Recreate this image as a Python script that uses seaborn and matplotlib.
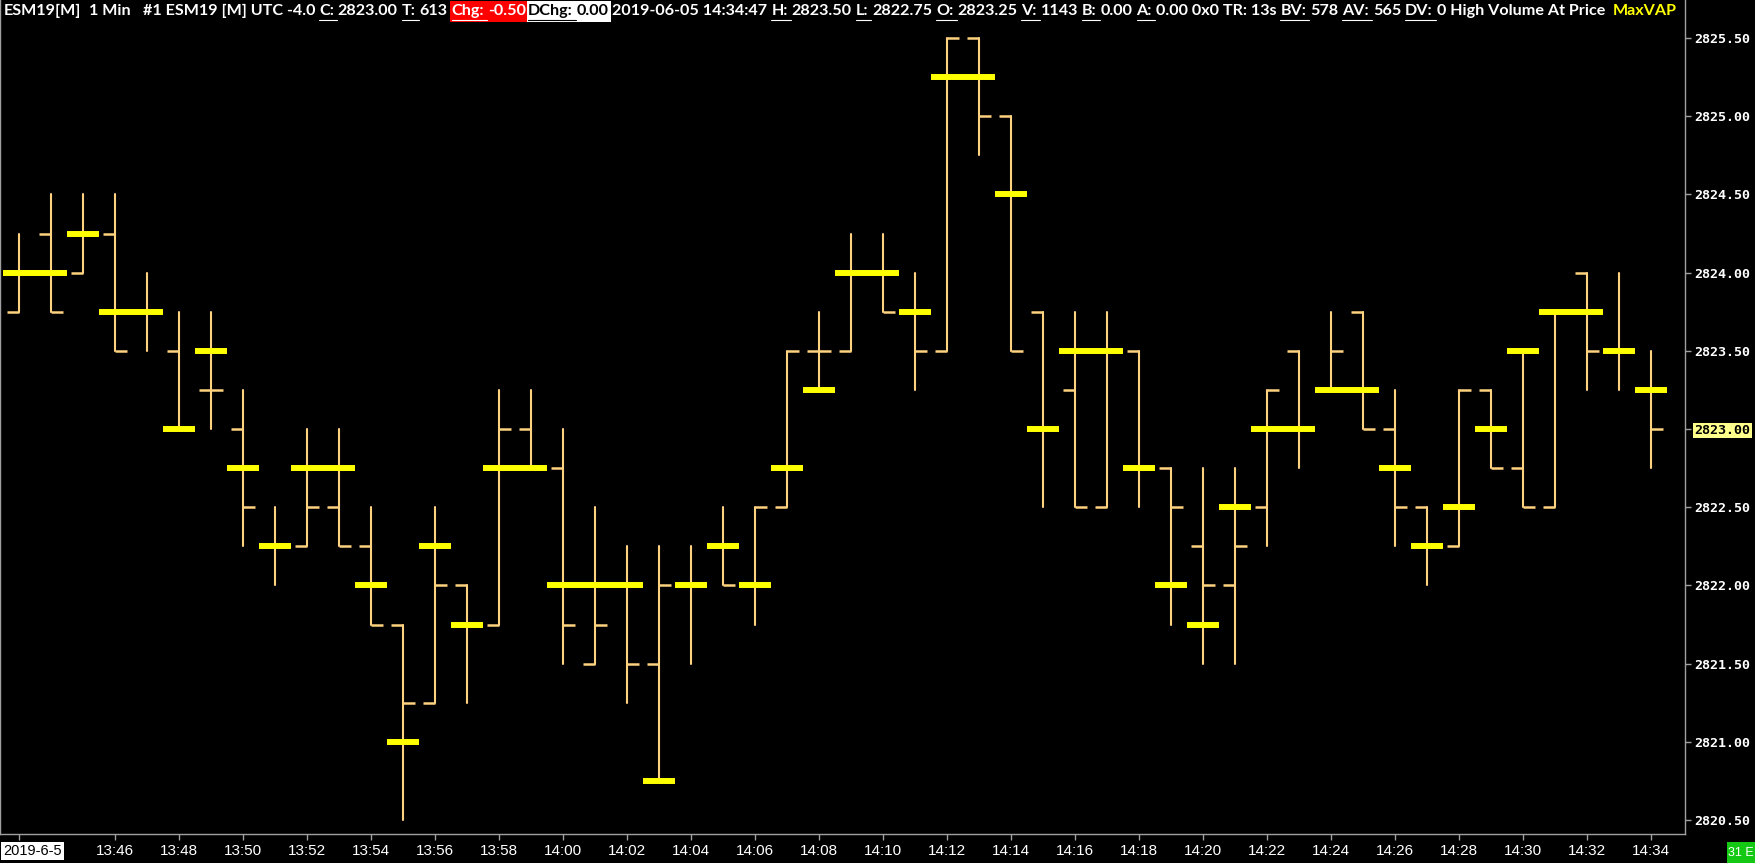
import numpy as np
import pandas as pd
import seaborn as sns
import matplotlib.pyplot as plt
from matplotlib.patches import Rectangle
from matplotlib.lines import Line2D
from matplotlib.transforms import IdentityTransform

# one minute bars, ESM19, 13:43 .. 14:34
times = ['13:43', '13:44', '13:45', '13:46', '13:47', '13:48', '13:49', '13:50', '13:51', '13:52',
         '13:53', '13:54', '13:55', '13:56', '13:57', '13:58', '13:59', '14:00', '14:01', '14:02',
         '14:03', '14:04', '14:05', '14:06', '14:07', '14:08', '14:09', '14:10', '14:11', '14:12',
         '14:13', '14:14', '14:15', '14:16', '14:17', '14:18', '14:19', '14:20', '14:21', '14:22',
         '14:23', '14:24', '14:25', '14:26', '14:27', '14:28', '14:29', '14:30', '14:31', '14:32',
         '14:33', '14:34']
opens = [2823.75, 2824.25, 2824.00, 2824.25, 2823.75, 2823.50, 2823.25, 2823.00, 2822.25, 2822.25,
         2822.50, 2822.25, 2821.75, 2821.25, 2822.00, 2821.75, 2823.00, 2822.75, 2821.50, 2822.00,
         2821.50, 2822.00, 2822.25, 2822.00, 2822.50, 2823.50, 2823.50, 2824.00, 2823.75, 2823.50,
         2825.50, 2825.00, 2823.75, 2823.25, 2822.50, 2823.50, 2822.75, 2822.25, 2822.00, 2822.50,
         2823.50, 2823.25, 2823.75, 2823.00, 2822.50, 2822.25, 2823.25, 2822.75, 2822.50, 2824.00,
         2823.50, 2823.25]
highs = [2824.25, 2824.50, 2824.50, 2824.50, 2824.00, 2823.75, 2823.75, 2823.25, 2822.50, 2823.00,
         2823.00, 2822.50, 2821.75, 2822.50, 2822.00, 2823.25, 2823.25, 2823.00, 2822.50, 2822.25,
         2822.25, 2822.25, 2822.50, 2822.50, 2823.50, 2823.75, 2824.25, 2824.25, 2824.00, 2825.50,
         2825.50, 2825.00, 2823.75, 2823.75, 2823.75, 2823.50, 2822.75, 2822.75, 2822.75, 2823.25,
         2823.50, 2823.75, 2823.75, 2823.25, 2822.50, 2823.25, 2823.25, 2823.50, 2823.75, 2824.00,
         2824.00, 2823.50]
lows = [2823.75, 2823.75, 2824.00, 2823.50, 2823.50, 2823.00, 2823.00, 2822.25, 2822.00, 2822.25,
        2822.25, 2821.75, 2820.50, 2821.25, 2821.25, 2821.75, 2822.75, 2821.50, 2821.50, 2821.25,
        2820.75, 2821.50, 2822.00, 2821.75, 2822.50, 2823.25, 2823.50, 2823.75, 2823.25, 2823.50,
        2824.75, 2823.50, 2822.50, 2822.50, 2822.50, 2822.50, 2821.75, 2821.50, 2821.50, 2822.25,
        2822.75, 2823.25, 2823.00, 2822.25, 2822.00, 2822.25, 2822.75, 2822.50, 2822.50, 2823.25,
        2823.25, 2822.75]
closes = [2824.00, 2823.75, 2824.25, 2823.50, 2823.75, 2823.00, 2823.25, 2822.50, 2822.25, 2822.50,
          2822.25, 2821.75, 2821.25, 2822.00, 2821.75, 2823.00, 2822.75, 2821.75, 2821.75, 2821.50,
          2822.00, 2822.00, 2822.00, 2822.50, 2823.50, 2823.50, 2824.00, 2823.75, 2823.50, 2825.50,
          2825.00, 2823.50, 2823.00, 2822.50, 2823.50, 2822.75, 2822.50, 2822.00, 2822.25, 2823.25,
          2823.00, 2823.50, 2823.00, 2822.50, 2822.25, 2823.25, 2822.75, 2822.50, 2823.75, 2823.50,
          2823.50, 2823.00]
max_vap = [2824.00, 2824.00, 2824.25, 2823.75, 2823.75, 2823.00, 2823.50, 2822.75, 2822.25, 2822.75,
           2822.75, 2822.00, 2821.00, 2822.25, 2821.75, 2822.75, 2822.75, 2822.00, 2822.00, 2822.00,
           2820.75, 2822.00, 2822.25, 2822.00, 2822.75, 2823.25, 2824.00, 2824.00, 2823.75, 2825.25,
           2825.25, 2824.50, 2823.00, 2823.50, 2823.50, 2822.75, 2822.00, 2821.75, 2822.50, 2823.00,
           2823.00, 2823.25, 2823.25, 2822.75, 2822.25, 2822.50, 2823.00, 2823.50, 2823.75, 2823.75,
           2823.50, 2823.25]
tick_times = ['13:46', '13:48', '13:50', '13:52', '13:54', '13:56', '13:58', '14:00', '14:02', '14:04',
              '14:06', '14:08', '14:10', '14:12', '14:14', '14:16', '14:18', '14:20', '14:22', '14:24',
              '14:26', '14:28', '14:30', '14:32', '14:34']
date_label = '2019-6-5'
last_price = '2823.00'

bar_color = '#ffd27f'
vap_color = '#ffff00'
grey = '#a0a0a0'
narrow = ['Liberation Sans Narrow', 'Liberation Sans', 'DejaVu Sans']

sns.set_style('dark', {'axes.facecolor': 'black', 'figure.facecolor': 'black'})
plt.rcParams['font.family'] = ['DejaVu Sans']

W, H = 1755, 863
fig = plt.figure(figsize=(W / 100, H / 100), dpi=100)
ax = fig.add_axes([0, 29 / H, 1685 / W, 834 / H])
ax.set_facecolor('black')

x = np.arange(len(times))
hl = pd.DataFrame({'bar': np.repeat(x, 2),
                   'price': np.column_stack([lows, highs]).ravel()})
sns.lineplot(data=hl, x='bar', y='price', units='bar', estimator=None,
             color=bar_color, lw=1.5, ax=ax, legend=False)
ax.hlines(opens, x - 0.375, x, color=bar_color, lw=1.8)
ax.hlines(closes, x, x + 0.375, color=bar_color, lw=1.8)
ax.hlines(max_vap, x - 0.5, x + 0.5, color=vap_color, lw=4.3, zorder=5)

ax.set_xlim(-19 / 32, (1685 - 19) / 32)
ax.set_ylim(2820.5 - 14 / 39.1 * 0.25, 2825.5 + 38 / 39.1 * 0.25)
ax.grid(False)
ax.set_xlabel('')
ax.set_ylabel('')

ax.spines['top'].set_visible(False)
for side in ['left', 'right', 'bottom']:
    ax.spines[side].set_visible(True)
    ax.spines[side].set_color(grey)
    ax.spines[side].set_linewidth(1.0)

# right price scale
ax.yaxis.tick_right()
yt = np.arange(2820.5, 2825.51, 0.5)
ax.set_yticks(yt)
ax.set_yticklabels([f'{v:.2f}' for v in yt])
ax.tick_params(axis='y', right=True, left=False, length=4, width=1, color=grey,
               labelcolor='white', labelsize=9.6, pad=3)
for lab in ax.get_yticklabels():
    lab.set_family('DejaVu Sans Mono')
    lab.set_weight('bold')
    if lab.get_text() == last_price:
        lab.set_color('black')
        lab.set_bbox(dict(facecolor='#ffff8c', edgecolor='none', pad=1))

# time scale (the date sits on the first bar, drawn separately so it stays inside)
xt = [0] + [times.index(t) for t in tick_times]
ax.set_xticks(xt)
ax.set_xticklabels([''] + tick_times)
ax.tick_params(axis='x', bottom=True, length=4, width=1, color=grey,
               labelcolor='white', labelsize=11, pad=3)
for lab in ax.get_xticklabels():
    lab.set_family(narrow)
fig.text(3, 12, date_label, color='black', fontsize=10.5, ha='left', va='center', family=narrow,
         bbox=dict(facecolor='white', edgecolor='none', pad=1.5),
         transform=IdentityTransform(), zorder=4)

# header line
header = [
    (0, 'ESM19[M]', 'w'), (2, '1 Min', 'w'), (3, '#1 ESM19 [M] UTC -4.0', 'w'),
    (1, 'C:', 'u'), (1, '2823.00', 'w'), (1, 'T:', 'u'), (1, '613', 'w'),
    (1, 'Chg:', 'ru'), (1, '-0.50', 'r'), (0.5, 'DChg:', 'ku'), (1, '0.00', 'k'),
    (1, '2019-06-05 14:34:47', 'w'), (1, 'H:', 'u'), (1, '2823.50', 'w'),
    (1, 'L:', 'u'), (1, '2822.75', 'w'), (1, 'O:', 'u'), (1, '2823.25', 'w'),
    (1, 'V:', 'u'), (1, '1143', 'w'), (1, 'B:', 'u'), (1, '0.00', 'w'),
    (1, 'A:', 'u'), (1, '0.00 0x0 TR: 13s', 'w'), (1, 'BV:', 'u'), (1, '578', 'w'),
    (1, 'AV:', 'u'), (1, '565', 'w'), (1, 'DV:', 'u'), (1, '0 High Volume At Price', 'w'),
    (2, 'MaxVAP', 'y'),
]
renderer = fig.canvas.get_renderer()
hfont = dict(family='Lato', weight='bold')


def text_w(s, size):
    t = fig.text(0, 0, s, fontsize=size, transform=IdentityTransform(), **hfont)
    w = t.get_window_extent(renderer).width
    t.remove()
    return w


base = 10
sp = text_w('a a', base) - text_w('aa', base)
total = sum(n * sp + text_w(s, base) for n, s, _ in header)
size = base * (1680 - 4) / total
sp = sp * size / base

cx = 4
boxes = {}
ty = H - 11
for n, s, st in header:
    cx += n * sp
    w = text_w(s, size)
    col = {'w': 'white', 'u': 'white', 'r': 'white', 'ru': 'white',
           'k': 'black', 'ku': 'black', 'y': vap_color}[st]
    fig.text(cx, ty, s, fontsize=size, color=col, va='center', ha='left',
             transform=IdentityTransform(), zorder=4, **hfont)
    if st in ('u', 'ru', 'ku'):
        fig.add_artist(Line2D([cx, cx + w + sp * 0.8], [H - 20, H - 20], color=col,
                              lw=0.8, transform=IdentityTransform(), zorder=4))
    if st[0] in 'rk':
        key = st[0]
        x0, x1 = boxes.get(key, (cx, cx))
        boxes[key] = (min(x0, cx), cx + w)
    cx += w

rx0, rx1 = boxes['r']
kx0, kx1 = boxes['k']
fig.add_artist(Rectangle((rx0 - 2, H - 22), rx1 - rx0 + 3, 21,
                         facecolor='#ff0000', edgecolor='none', transform=IdentityTransform(), zorder=2))
fig.add_artist(Rectangle((kx0 - 1, H - 22), kx1 - kx0 + 3, 21,
                         facecolor='white', edgecolor='none', transform=IdentityTransform(), zorder=2))

# bar counter box, bottom right
fig.add_artist(Rectangle((1727, 0), 28, 21, facecolor='#14c814', edgecolor='none',
                         transform=IdentityTransform(), zorder=2))
fig.text(1741, 10, '31 E', color='white', fontsize=9, ha='center', va='center',
         family=narrow, transform=IdentityTransform(), zorder=4)

plt.savefig('out.png', dpi=100, facecolor='black')
